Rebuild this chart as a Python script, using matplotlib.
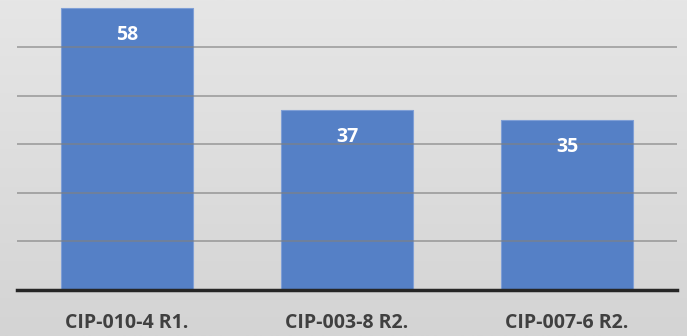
import numpy as np
import matplotlib
matplotlib.use("Agg")
import matplotlib.pyplot as plt
from matplotlib.colors import LinearSegmentedColormap

categories = ["CIP-010-4 R1.", "CIP-003-8 R2.", "CIP-007-6 R2."]
values = [58, 37, 35]
yticks = [0, 10, 20, 30, 40, 50]

plt.rcParams['font.family'] = ['Open Sans', 'DejaVu Sans']

fig = plt.figure(figsize=(6.87, 3.36), dpi=100)

# background gradient
bg = fig.add_axes([0, 0, 1, 1], zorder=-10)
cmap = LinearSegmentedColormap.from_list("bg", ["#e6e6e6", "#d4d4d4"])
grad = np.linspace(0, 1, 256).reshape(-1, 1)
bg.imshow(grad, aspect="auto", cmap=cmap, extent=[0, 1, 0, 1], origin="upper")
bg.axis("off")

ax = fig.add_axes([17/687, 46/336, 660/687, 290/336])
ax.set_facecolor("none")
x = np.arange(len(categories))
bars = ax.bar(x, values, width=0.6, color="#5580c6", edgecolor="#7f9fd6", linewidth=0.8, zorder=2)
ax.set_xlim(-0.5, 2.5)
ax.set_ylim(0, 59.7)
ax.set_yticks(yticks)
ax.yaxis.grid(True, color="#808080", linewidth=1.4, alpha=0.6, zorder=3)
ax.set_axisbelow(False)
ax.tick_params(axis="y", left=False, labelleft=False)
ax.tick_params(axis="x", bottom=False, pad=13)
ax.set_xticks(x)
ax.set_xticklabels(categories, fontsize=14, fontweight="bold", color="#404040")
for s in ["top", "right", "left"]:
    ax.spines[s].set_visible(False)
ax.spines["bottom"].set_color("#262626")
ax.spines["bottom"].set_linewidth(2.5)
ax.spines["bottom"].set_zorder(4)

for xi, v in zip(x, values):
    ax.annotate(str(v), (xi, v), xytext=(0, -27), textcoords="offset pixels",
                ha="center", va="center", fontsize=14, fontweight="bold", color="white", zorder=5)

fig.savefig("out.png", dpi=100)
